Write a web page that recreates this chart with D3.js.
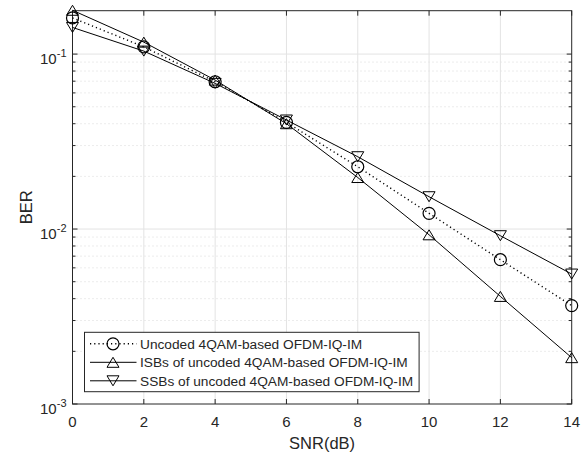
<!DOCTYPE html>
<html><head><meta charset="utf-8">
<script src="https://cdn.jsdelivr.net/npm/d3@7"></script>
<style>body{margin:0;background:#fff;} text{font-family:"Liberation Sans",Arial,Helvetica,sans-serif;fill:#262626;}</style>
</head><body>
<svg id="c" width="587" height="454"></svg>
<script>
const snr = [0, 2, 4, 6, 8, 10, 12, 14];
const uncoded = [0.161, 0.110, 0.0695, 0.0407, 0.0227, 0.0123, 0.00668, 0.00365];
const isb = [0.178, 0.117, 0.071, 0.0400, 0.0197, 0.00927, 0.00412, 0.00184];
const ssb = [0.142, 0.104, 0.068, 0.0420, 0.0259, 0.0153, 0.00916, 0.00553];
const xTicks = [0, 2, 4, 6, 8, 10, 12, 14];
const yTicks = [1e-3, 1e-2, 1e-1];
const yTickExp = ["-3", "-2", "-1"];
const legendLabels = ["Uncoded 4QAM-based OFDM-IQ-IM", "ISBs of uncoded 4QAM-based OFDM-IQ-IM", "SSBs of uncoded 4QAM-based OFDM-IQ-IM"];

const L = 72.5, R = 571.7, T = 10.7, B = 404;
const svg = d3.select("#c");
const x = d3.scaleLinear().domain([0, 14]).range([L, R]);
const y = d3.scaleLog().domain([1e-3, 0.177]).range([B, T]);
const ax = "#262626";

const minor = [];
[1e-3, 1e-2, 1e-1].forEach(d => { for (let k = 2; k <= 9; k++) { const v = d * k; if (v <= 0.177) minor.push(v); } });

const g = svg.append("g");
g.selectAll(".mg").data(minor).enter().append("line")
  .attr("x1", L).attr("x2", R).attr("y1", d => y(d)).attr("y2", d => y(d))
  .attr("stroke", "#d9d9d9").attr("stroke-width", 1).attr("stroke-dasharray", "1,3");
g.selectAll(".xg").data(xTicks.slice(1, -1)).enter().append("line")
  .attr("x1", d => x(d)).attr("x2", d => x(d)).attr("y1", T).attr("y2", B)
  .attr("stroke", "#e3e3e3").attr("stroke-width", 1);
g.selectAll(".yg").data(yTicks.slice(1)).enter().append("line")
  .attr("x1", L).attr("x2", R).attr("y1", d => y(d)).attr("y2", d => y(d))
  .attr("stroke", "#e3e3e3").attr("stroke-width", 1);

xTicks.forEach(d => {
  g.append("line").attr("x1", x(d)).attr("x2", x(d)).attr("y1", B).attr("y2", B - 5).attr("stroke", ax);
  g.append("line").attr("x1", x(d)).attr("x2", x(d)).attr("y1", T).attr("y2", T + 5).attr("stroke", ax);
});
yTicks.forEach(d => {
  g.append("line").attr("x1", L).attr("x2", L + 5).attr("y1", y(d)).attr("y2", y(d)).attr("stroke", ax);
  g.append("line").attr("x1", R).attr("x2", R - 5).attr("y1", y(d)).attr("y2", y(d)).attr("stroke", ax);
});
minor.forEach(d => {
  g.append("line").attr("x1", L).attr("x2", L + 3).attr("y1", y(d)).attr("y2", y(d)).attr("stroke", ax);
  g.append("line").attr("x1", R).attr("x2", R - 3).attr("y1", y(d)).attr("y2", y(d)).attr("stroke", ax);
});
g.append("rect").attr("x", L).attr("y", T).attr("width", R - L).attr("height", B - T)
  .attr("fill", "none").attr("stroke", ax).attr("stroke-width", 1);

g.selectAll(".xl").data(xTicks).enter().append("text")
  .attr("x", d => x(d)).attr("y", 427).attr("text-anchor", "middle").attr("font-size", 15).text(d => d);
yTicks.forEach((d, i) => {
  const t = g.append("text").attr("x", 66.5).attr("y", y(d) + 9.5).attr("text-anchor", "end").attr("font-size", 15);
  t.append("tspan").text("10");
  t.append("tspan").attr("dy", -7).attr("font-size", 11).text(yTickExp[i]);
});
g.append("text").attr("x", (L + R) / 2).attr("y", 449).attr("text-anchor", "middle").attr("font-size", 16.5).text("SNR(dB)");
g.append("text").attr("transform", `translate(32,${(T + B) / 2}) rotate(-90)`).attr("text-anchor", "middle").attr("font-size", 16.5).text("BER");

const line = d3.line().x((d, i) => x(snr[i])).y(d => y(d));
const series = [
  {v: uncoded, dash: "1.2,3", m: "o"},
  {v: isb, dash: null, m: "^"},
  {v: ssb, dash: null, m: "v"}
];
function marker(sel, type, cx, cy) {
  if (type === "o") sel.append("circle").attr("cx", cx).attr("cy", cy).attr("r", 6)
    .attr("fill", "none").attr("stroke", "#000").attr("stroke-width", 1.2);
  else {
    const h = 5, w = 6;
    const pts = type === "^" ? [[cx, cy - h], [cx - w, cy + h], [cx + w, cy + h]] : [[cx, cy + h], [cx - w, cy - h], [cx + w, cy - h]];
    sel.append("path").attr("d", "M" + pts.map(p => p.join(",")).join("L") + "Z")
      .attr("fill", "none").attr("stroke", "#000").attr("stroke-width", 1);
  }
}
series.forEach(s => {
  g.append("path").attr("d", line(s.v)).attr("fill", "none").attr("stroke", "#000")
    .attr("stroke-width", s.dash ? 1.4 : 1).attr("stroke-dasharray", s.dash);
  s.v.forEach((d, i) => marker(g, s.m, x(snr[i]), y(d)));
});

const lg = g.append("g");
const lx = 84.5, ly = 332.3, lh = 59.4;
const box = lg.append("rect").attr("x", lx).attr("y", ly).attr("height", lh)
  .attr("fill", "#fff").attr("stroke", ax).attr("stroke-width", 1);
let maxW = 0;
series.forEach((s, i) => {
  const yy = ly + 11.5 + i * 18.5;
  lg.append("line").attr("x1", lx + 5.5).attr("x2", lx + 52).attr("y1", yy).attr("y2", yy)
    .attr("stroke", "#000").attr("stroke-width", s.dash ? 1.4 : 1).attr("stroke-dasharray", s.dash);
  marker(lg, s.m, lx + 28.5, yy);
  const t = lg.append("text").attr("x", lx + 55.5).attr("y", yy + 5).attr("font-size", 13.7).text(legendLabels[i]);
  maxW = Math.max(maxW, t.node().getComputedTextLength());
});
box.attr("width", 55.5 + maxW + 6);
</script>
</body></html>
